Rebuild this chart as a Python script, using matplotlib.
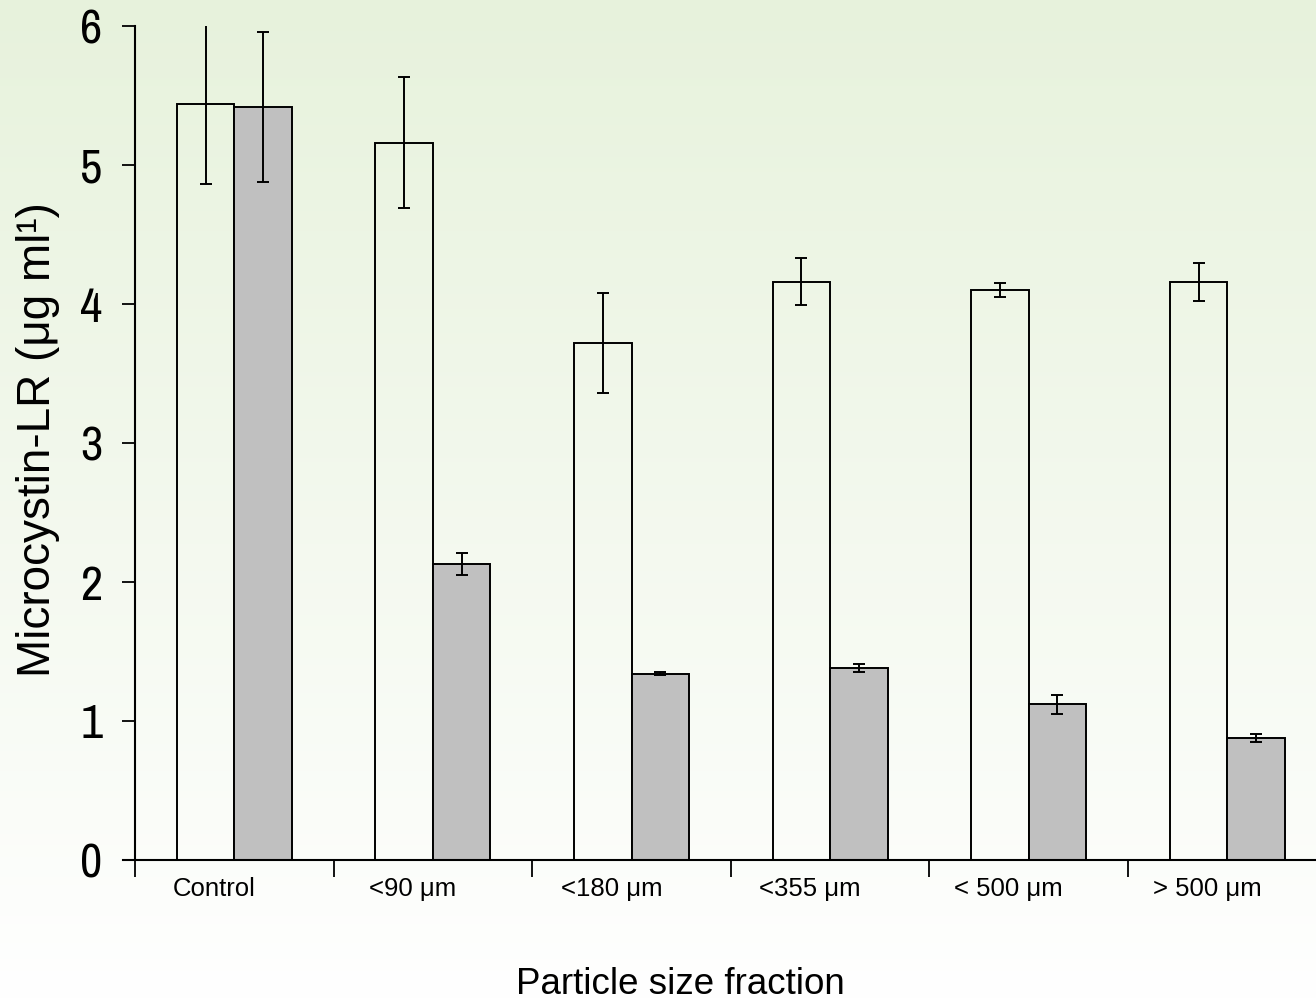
import numpy as np
import matplotlib
matplotlib.use('Agg')
import matplotlib.pyplot as plt
from matplotlib import font_manager

# data
categories = ['Control', '<90 \u03bcm', '<180 \u03bcm', '<355 \u03bcm', '< 500 \u03bcm', '> 500 \u03bcm']
open_vals = [5.44, 5.16, 3.72, 4.16, 4.10, 4.16]
open_err = [0.58, 0.47, 0.36, 0.17, 0.05, 0.135]
grey_vals = [5.42, 2.13, 1.34, 1.38, 1.12, 0.88]
grey_err = [0.54, 0.08, 0.01, 0.03, 0.07, 0.03]
yticks = [0, 1, 2, 3, 4, 5, 6]

# narrow face for the big y tick numbers, use whatever is there
have = set(f.name for f in font_manager.fontManager.ttflist)
narrow = 'Liberation Sans'
for cand in ['Liberation Sans Narrow', 'Arial Narrow', 'Archivo Narrow', 'PT Sans Narrow',
             'Roboto Condensed', 'Open Sans Condensed', 'Arimo Narrow', 'DejaVu Sans Condensed']:
    if cand in have:
        narrow = cand
        break

W, H = 1316, 1002
fig = plt.figure(figsize=(W / 100, H / 100), dpi=100)

# background gradient, light green at the top fading to white
bg = fig.add_axes([0, 0, 1, 1], zorder=-10)
top = np.array([231, 242, 220]) / 255
bottom = np.array([255, 255, 255]) / 255
t = np.linspace(0, 1, 256)[:, None, None]
grad = top * (1 - t) + bottom * t
grad = np.repeat(grad, 2, axis=1)
bg.imshow(grad, aspect='auto', extent=[0, 1, 0, 1])
bg.set_axis_off()

# axes: y axis at px 135, x axis at px 860, top at px 26
x0 = 123 / W
ax = fig.add_axes([x0, (H - 860) / H, 1 - x0, (860 - 26) / H])
ax.set_facecolor('none')

grp = 198.6  # px per group
ax.set_xlim((123 - 135) / grp, (W - 135) / grp)
ax.set_ylim(0, 6)

idx = np.arange(len(categories))
bw = 0.29
lw = 1.4
ax.bar(idx + 0.21, open_vals, width=bw, align='edge', facecolor='none',
       edgecolor='black', linewidth=lw, zorder=2)
ax.bar(idx + 0.50, grey_vals, width=bw, align='edge', facecolor='#c0c0c0',
       edgecolor='black', linewidth=lw, zorder=2)
ax.errorbar(idx + 0.21 + bw / 2, open_vals, yerr=open_err, fmt='none',
            ecolor='black', elinewidth=1.4, capsize=4.5, capthick=1.4, zorder=3)
ax.errorbar(idx + 0.50 + bw / 2, grey_vals, yerr=grey_err, fmt='none',
            ecolor='black', elinewidth=1.4, capsize=4.5, capthick=1.4, zorder=3)

for s in ['top', 'right']:
    ax.spines[s].set_visible(False)
ax.spines['left'].set_position(('data', 0))
ax.spines['left'].set_linewidth(1.5)
ax.spines['bottom'].set_linewidth(1.5)

ax.set_yticks(yticks)
ax.set_yticklabels([str(v) for v in yticks], family=[narrow, 'DejaVu Sans'], fontsize=35)
ax.tick_params(axis='y', direction='out', length=9.5, width=1.3, pad=14)

ax.set_xticks(np.arange(len(categories)))
ax.set_xticklabels([])
ax.tick_params(axis='x', which='major', direction='out', length=12.5, width=1.3)
ax.set_xticks(idx + 0.4, minor=True)
ax.set_xticklabels(categories, minor=True,
                   family=['Liberation Sans', 'DejaVu Sans'], fontsize=18.5)
ax.tick_params(axis='x', which='minor', length=0, pad=12)

fig.text(680 / W, 1 - 985 / H, 'Particle size fraction', ha='center', va='center',
         family=['Liberation Sans', 'DejaVu Sans'], fontsize=26.5)
fig.text(38 / W, 1 - 440 / H, 'Microcystin-LR (\u03bcg ml\u00b9)', ha='center', va='center',
         rotation=90, family=['Liberation Sans', 'DejaVu Sans'], fontsize=33)

fig.savefig('out.png', dpi=100)
